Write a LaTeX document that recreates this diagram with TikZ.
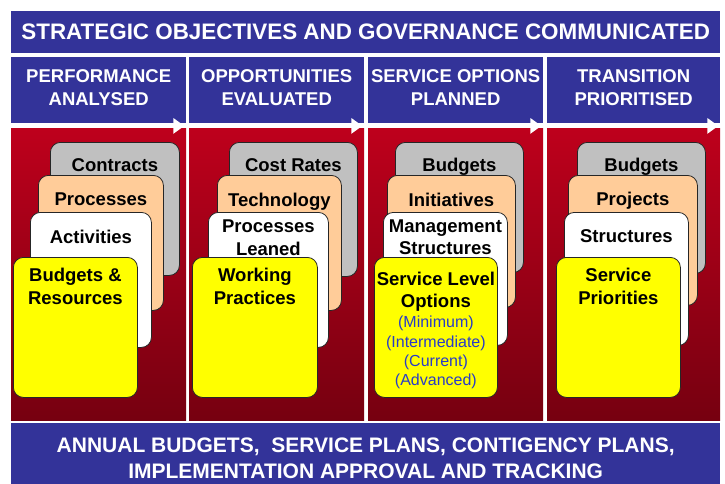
\documentclass[tikz,border=0pt]{standalone}
\usepackage{fontspec}
\setmainfont{Liberation Sans}
\usetikzlibrary{positioning,arrows.meta}

\definecolor{govblue}{RGB}{51,51,153}
\definecolor{panelred}{RGB}{190,0,28}
\definecolor{paneldark}{RGB}{118,0,16}
\definecolor{cardgray}{RGB}{192,192,192}
\definecolor{cardpeach}{RGB}{255,204,153}
\definecolor{cardyellow}{RGB}{255,255,0}
\definecolor{optblue}{RGB}{40,60,200}

\tikzset{
	banner/.style={fill=govblue, text=white, font=\fontsize{22.4}{26}\selectfont\bfseries, inner sep=0pt, anchor=north west, align=center},
	header/.style={fill=govblue, inner sep=0pt, anchor=north west, minimum height=66pt},
	headtext/.style={text=white, font=\fontsize{18.5}{23}\selectfont\bfseries, inner sep=0pt, align=center},
	panel/.style={top color=panelred, bottom color=paneldark, anchor=north west, inner sep=0pt, minimum height=292pt},
	card/.style={draw=black!85, line width=0.8pt, rounded corners=10pt, anchor=north west, inner sep=0pt},
	cardtext/.style={font=\fontsize{18.5}{22.5}\selectfont\bfseries, inner sep=0pt, align=center},
	opttext/.style={font=\fontsize{16}{19.3}\selectfont, text=optblue, inner sep=0pt, align=center},
	flow/.style={draw=white, line width=2.5pt, -{Triangle[length=11pt,width=15pt]}},
}

\begin{document}
\begin{tikzpicture}[x=1pt, y=-1pt]
	
	\clip (0,0) rectangle (725,483);
	
	\node[banner, minimum width=709pt, minimum height=42pt] (goals) at (11,11) {STRATEGIC OBJECTIVES AND GOVERNANCE COMMUNICATED};
	\node[banner, minimum width=709pt, minimum height=70pt, font=\fontsize{21}{26}\selectfont\bfseries] (plans) at (11,423) {ANNUAL BUDGETS,\ \ SERVICE PLANS, CONTIGENCY PLANS,\\IMPLEMENTATION APPROVAL AND TRACKING};
	
	% stage headers
	\node[header, minimum width=175pt] (h1) at (11,57)  {};
	\node[header, minimum width=175pt] (h2) at (189,57) {};
	\node[header, minimum width=175pt] (h3) at (368,57) {};
	\node[header, minimum width=173pt] (h4) at (547,57) {};
	\node[headtext] (l1) at ([yshift=3pt]h1.center) {PERFORMANCE\\ANALYSED};
	\node[headtext] (l2) at ([yshift=3pt]h2.center) {OPPORTUNITIES\\EVALUATED};
	\node[headtext] (l3) at ([yshift=3pt]h3.center) {SERVICE OPTIONS\\PLANNED};
	\node[headtext] (l4) at ([yshift=3pt]h4.center) {TRANSITION\\PRIORITISED};
	
	\node[panel, minimum width=175pt] (p1) at (11,128)  {};
	\node[panel, minimum width=175pt] (p2) at (189,128) {};
	\node[panel, minimum width=175pt] (p3) at (368,128) {};
	\node[panel, minimum width=173pt] (p4) at (547,128) {};
	
	\draw[flow] ([yshift=-2.5pt]h1.south west) -- ([xshift=-2pt,yshift=-2.5pt]h1.south east);
	\draw[flow] ([yshift=-2.5pt]h2.south west) -- ([xshift=-2pt,yshift=-2.5pt]h2.south east);
	\draw[flow] ([yshift=-2.5pt]h3.south west) -- ([xshift=-2pt,yshift=-2.5pt]h3.south east);
	\draw[flow] ([yshift=-2.5pt]h4.south west) -- ([xshift=-2pt,yshift=-2.5pt]h4.south east);
	
	% performance analysed
	\node[card, fill=cardgray,   minimum width=129pt, minimum height=133pt] (c1gray)   at (50,142) {};
	\node[card, fill=cardpeach,  minimum width=125pt, minimum height=135pt] (c1peach)  at (38,175) {};
	\node[card, fill=white,      minimum width=121pt, minimum height=135pt] (c1white)  at (30,212) {};
	\node[card, fill=cardyellow, minimum width=124pt, minimum height=140pt] (c1yellow) at (13,257) {};
	\node[cardtext, below=16pt of c1gray.north]    (t1gray)   {Contracts};
	\node[cardtext, below=18pt of c1peach.north]   (t1peach)  {Processes};
	\node[cardtext, below=17.5pt of c1white.north] (t1white)  {Activities};
	\node[cardtext, below=11pt of c1yellow.north]  (t1yellow) {Budgets \&\\Resources};
	
	% opportunities evaluated
	\node[card, fill=cardgray,   minimum width=128pt, minimum height=134pt] (c2gray)   at (229,142) {};
	\node[card, fill=cardpeach,  minimum width=124pt, minimum height=135pt] (c2peach)  at (217,175) {};
	\node[card, fill=white,      minimum width=120pt, minimum height=135pt] (c2white)  at (208,212) {};
	\node[card, fill=cardyellow, minimum width=125pt, minimum height=140pt] (c2yellow) at (192,257) {};
	\node[cardtext, below=16pt of c2gray.north]   (t2gray)   {Cost Rates};
	\node[cardtext, below=18pt of c2peach.north]  (t2peach)  {Technology};
	\node[cardtext, below=8pt of c2white.north]   (t2white)  {Processes\\Leaned};
	\node[cardtext, below=11pt of c2yellow.north] (t2yellow) {Working\\Practices};
	
	% service options planned
	\node[card, fill=cardgray,   minimum width=128pt, minimum height=130pt] (c3gray)   at (395,142) {};
	\node[card, fill=cardpeach,  minimum width=128pt, minimum height=132pt] (c3peach)  at (387,175) {};
	\node[card, fill=white,      minimum width=124pt, minimum height=133pt] (c3white)  at (383,212) {};
	\node[card, fill=cardyellow, minimum width=123pt, minimum height=140pt] (c3yellow) at (374,257) {};
	\node[cardtext, below=15.5pt of c3gray.north]   (t3gray)   {Budgets};
	\node[cardtext, below=17.5pt of c3peach.north]  (t3peach)  {Initiatives};
	\node[cardtext, below=7.5pt of c3white.north]   (t3white)  {Management\\Structures};
	\node[cardtext, below=14.5pt of c3yellow.north] (t3yellow) {Service Level\\Options};
	\node[opttext, below=4.5pt of t3yellow] (t3opts) {(Minimum)\\(Intermediate)\\(Current)\\(Advanced)};
	
	% transition prioritised
	\node[card, fill=cardgray,   minimum width=128pt, minimum height=131pt] (c4gray)   at (577,142) {};
	\node[card, fill=cardpeach,  minimum width=129pt, minimum height=130pt] (c4peach)  at (568,175) {};
	\node[card, fill=white,      minimum width=124pt, minimum height=133pt] (c4white)  at (564,212) {};
	\node[card, fill=cardyellow, minimum width=124pt, minimum height=140pt] (c4yellow) at (556,257) {};
	\node[cardtext, below=15.5pt of c4gray.north]  (t4gray)   {Budgets};
	\node[cardtext, below=17pt of c4peach.north]   (t4peach)  {Projects};
	\node[cardtext, below=17.5pt of c4white.north] (t4white)  {Structures};
	\node[cardtext, below=11pt of c4yellow.north]  (t4yellow) {Service\\Priorities};
	
\end{tikzpicture}
\end{document}
